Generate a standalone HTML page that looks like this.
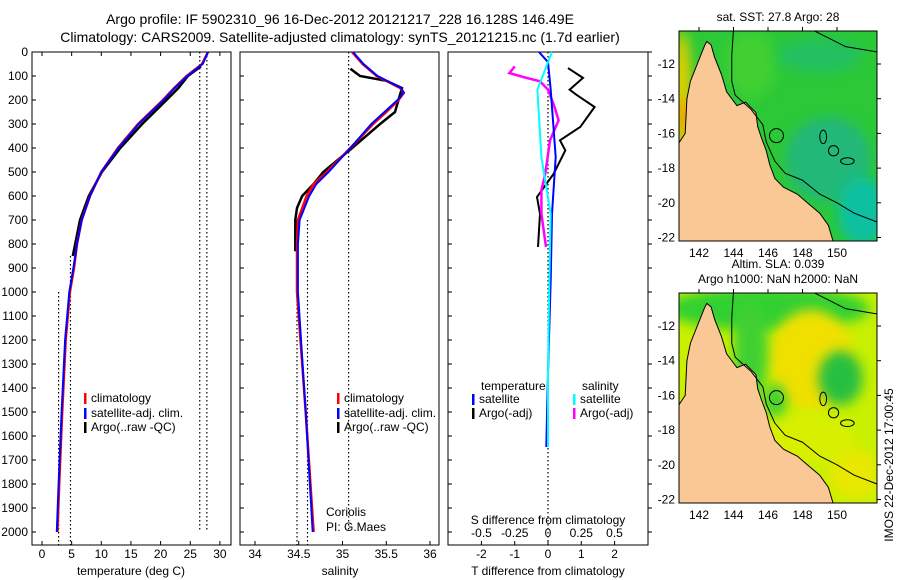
<!DOCTYPE html>
<html><head><meta charset="utf-8">
<style>
body{margin:0;background:#fff;}
svg{display:block;font-family:"Liberation Sans",sans-serif;}
text{fill:#000;}
</style></head>
<body>
<svg id="fig" width="900" height="580" viewBox="0 0 900 580">
<text x="340" y="24" font-size="14" text-anchor="middle">Argo profile: IF 5902310_96 16-Dec-2012 20121217_228 16.128S 146.49E</text>
<text x="340" y="42" font-size="14" text-anchor="middle">Climatology: CARS2009. Satellite-adjusted climatology: synTS_20121215.nc (1.7d earlier)</text>
<g id="maps"></g>
<g id="panels"></g>
<text transform="translate(893,465) rotate(-90)" font-size="12" text-anchor="middle">IMOS 22-Dec-2012 17:00:45</text>
</svg>
<script>
// ---------- data ----------
const depthClim = [0,50,100,150,200,300,400,500,600,700,800,900,1000,1200,1500,1800,2000];
const tempClim  = [28,27,24.4,22.3,20.4,16.2,12.8,10,8.1,6.7,5.9,5.4,4.7,4.0,3.4,2.9,2.6];
const tempSat   = [28,27.1,24.5,22.4,20.5,16.3,12.9,10,8.1,6.7,5.9,5.3,4.6,3.9,3.3,2.8,2.5];
const depthArgoT = [60,100,150,200,300,400,500,600,700,800,850];
const tempArgo   = [26.8,24.6,23,21,16.9,13.2,10.1,7.9,6.4,5.6,5.2];
const depthSalClim = [0,50,100,150,170,200,250,300,400,500,550,600,700,800,1000,1500,2000];
const salClim = [35.11,35.23,35.39,35.66,35.7,35.64,35.5,35.35,35.09,34.82,34.67,34.59,34.49,34.48,34.48,34.58,34.67];
const salSat  = [35.12,35.24,35.4,35.67,35.7,35.63,35.48,35.33,35.09,34.84,34.7,34.62,34.51,34.49,34.49,34.58,34.66];
const depthArgoS = [70,100,120,150,200,250,300,400,500,550,600,650,700,830];
const salArgo = [35.09,35.2,35.5,35.68,35.64,35.6,35.43,35.11,34.78,34.67,34.54,34.48,34.46,34.46];
const depthDiffArgo = [67,108,157,178,229,312,368,410,507,604,674,812];
const tDiffArgo = [0.6,1.05,0.65,0.85,1.4,0.97,0.36,0.52,0.17,-0.33,-0.24,-0.3];
const depthDiffArgoS = [60,88,108,122,157,229,285,368,507,576,674,812];
const sDiffArgo = [-0.25,-0.29,-0.16,-0.06,0,0.05,0.08,0.015,-0.02,-0.05,-0.05,-0.015];
const depthDiffSat = [0,42,157,438,674,951,1337,1646];
const tDiffSat = [-0.27,0,0.08,0.23,0.12,0.08,0,-0.05];
const sDiffSat = [0.03,0,-0.08,-0.05,0.02,0.01,0,0];
const depthTicks = [0,100,200,300,400,500,600,700,800,900,1000,1100,1200,1300,1400,1500,1600,1700,1800,1900,2000];
const tempTicks = [0,5,10,15,20,25,30];
const salTicks = [34,34.5,35,35.5,36];
const tDiffTicks = [-2,-1,0,1,2];
const sDiffTicks = [-0.5,-0.25,0,0.25,0.5];
const latTicks = [12,14,16,18,20,22];
const lonTicks = [142,144,146,148,150];

const NS='http://www.w3.org/2000/svg';
function el(tag,attrs,parent,txt){const e=document.createElementNS(NS,tag);for(const k in attrs)e.setAttribute(k,attrs[k]);if(txt!==undefined)e.textContent=txt;parent.appendChild(e);return e;}
const panels=document.getElementById('panels');
const Y0=52, YB=545;
const yD = d => Y0 + d*0.24;
const xT = t => 42 + t*5.93;
const xS = s => 255 + (s-34)*87.5;
const xTD = t => 548 + t*33.3;
const xSD = s => 548 + s*133;

function frame(x0,x1,name){
  const r=el('rect',{x:x0,y:Y0,width:x1-x0,height:YB-Y0,fill:'none',stroke:'#000','stroke-width':1},panels);
  
  
  depthTicks.forEach(d=>{el('line',{x1:x0,x2:x0+4,y1:yD(d),y2:yD(d),stroke:'#000'},panels);});
}
function line(xs,ds,xf,color,w,name){
  const pts=xs.map((v,i)=>xf(v).toFixed(1)+','+yD(ds[i]).toFixed(1)).join(' ');
  const p=el('polyline',{points:pts,fill:'none',stroke:color,'stroke-width':w},panels);
  
  
}
function vdot(x,d0,d1,name){
  const l=el('line',{x1:x,x2:x,y1:yD(d0),y2:yD(d1),stroke:'#000','stroke-width':1.2,'stroke-dasharray':'1.5,2.5'},panels);
  
  
}
function xticks(ticks,xf,y,labelfmt,name){
  ticks.forEach(t=>{
    el('line',{x1:xf(t),x2:xf(t),y1:YB,y2:YB-4,stroke:'#000'},panels);
    const tx=el('text',{x:xf(t),y:y,'font-size':12,'text-anchor':'middle'},panels,labelfmt(t));
    
    
  });
}
function legend(x,y,color,label,name){
  el('rect',{x:x,y:y-9,width:2.5,height:11,fill:color},panels);
  const t=el('text',{x:x+7,y:y,'font-size':12},panels,label);
  
  
}
depthTicks.forEach(d=>{
  const t=el('text',{x:28,y:yD(d)+4,'font-size':12,'text-anchor':'end'},panels,String(d));
  
  
});
// Panel 1 temperature
frame(32,231,'temperature-panel');
tempTicks.forEach(t=>el('line',{x1:xT(t),x2:xT(t),y1:Y0,y2:Y0+4,stroke:'#000'},panels));
vdot(xT(26.6),0,2000,'sst-dotted-1');vdot(xT(27.8),0,2000,'sst-dotted-2');
vdot(xT(4.8),850,2055,'temp-dotted-1');vdot(xT(2.8),1000,2055,'temp-dotted-2');
line(tempArgo,depthArgoT,xT,'#000',2.5,'temp-argo-line');
line(tempClim,depthClim,xT,'#f00',2.5,'temp-climatology-line');
line(tempSat,depthClim,xT,'#00f',2,'temp-satellite-line');
xticks(tempTicks,xT,558,t=>String(t),'temp-tick-label');
el('text',{x:131,y:575,'font-size':12,'text-anchor':'middle',},panels,'temperature (deg C)');
legend(84,402,'#f00','climatology','legend-climatology');
legend(84,417,'#00f','satellite-adj. clim.','legend-satellite');
legend(84,431,'#000','Argo(..raw -QC)','legend-argo');
// Panel 2 salinity
frame(240,439,'salinity-panel');
vdot(xS(35.07),0,2000,'sal-dotted-1');vdot(xS(34.48),700,2055,'sal-dotted-2');vdot(xS(34.6),700,2055,'sal-dotted-3');
line(salArgo,depthArgoS,xS,'#000',2.5,'sal-argo-line');
line(salClim,depthSalClim,xS,'#f00',2.5,'sal-climatology-line');
line(salSat,depthSalClim,xS,'#00f',2,'sal-satellite-line');
xticks(salTicks,xS,558,t=>String(t),'sal-tick-label');
el('text',{x:340,y:575,'font-size':12,'text-anchor':'middle',},panels,'salinity');
legend(337,402,'#f00','climatology','legend-climatology-2');
legend(337,417,'#00f','satellite-adj. clim.','legend-satellite-2');
legend(337,431,'#000','Argo(..raw -QC)','legend-argo-2');
el('text',{x:326,y:516,'font-size':12,},panels,'Coriolis');
el('text',{x:326,y:531,'font-size':12,},panels,'PI: G.Maes');
// Panel 3 difference
frame(448,648,'difference-panel');
depthTicks.forEach(d=>el('line',{x1:648,x2:652,y1:yD(d),y2:yD(d),stroke:'#000'},panels));
vdot(548,0,2055,'zero-dotted');
line(tDiffArgo,depthDiffArgo,xTD,'#000',2,'tdiff-argo-line');
line(sDiffArgo,depthDiffArgoS,xSD,'#f0f',2.5,'sdiff-argo-line');
line(tDiffSat,depthDiffSat,xTD,'#00f',2,'tdiff-satellite-line');
line(sDiffSat,depthDiffSat,xSD,'#0ff',2,'sdiff-satellite-line');
xticks(tDiffTicks,xTD,558,t=>String(t),'tdiff-tick-label');
el('text',{x:548,y:575,'font-size':12,'text-anchor':'middle',},panels,'T difference from climatology');
sDiffTicks.forEach(s=>{const t=el('text',{x:xSD(s),y:537,'font-size':12,'text-anchor':'middle'},panels,String(s));
  
  });
el('text',{x:548,y:524,'font-size':12,'text-anchor':'middle',},panels,'S difference from climatology');
el('text',{x:481,y:390,'font-size':12,},panels,'temperature');
legend(472,403,'#00f','satellite','legend-tdiff-satellite');
legend(472,417,'#000','Argo(-adj)','legend-tdiff-argo');
el('text',{x:582,y:390,'font-size':12,},panels,'salinity');
legend(573,403,'#0ff','satellite','legend-sdiff-satellite');
legend(573,417,'#f0f','Argo(-adj)','legend-sdiff-argo');

// ---------- maps ----------
const maps=document.getElementById('maps');
const coast=[[140.8,16.6],[141.2,16],[141.3,14],[141.5,13],[141.9,12],[142.3,11],[142.45,10.7],[142.7,10.9],[142.9,11.6],[143.3,12.6],[143.6,13.6],[144.2,14.4],[144.7,14.2],[145.3,14.8],[145.4,15.6],[145.6,16.2],[145.9,17],[146.1,17.8],[146.4,18.6],[146.9,19.1],[147.7,19.5],[148.4,20.1],[149,20.6],[149.5,21.3],[149.8,22.3],[140.8,22.3]];
const iso=[[144,10],[143.9,11.5],[143.9,13],[144.1,13.8],[145,14.6],[145.7,15.5],[145.9,16.5],[146.4,17.6],[147,18.3],[148,18.7],[149,19.5],[150,20],[151,20.6],[152.3,21.1]];
const iso2=[[148.5,10],[149.5,10.5],[150.5,11],[152.3,11.3]];
function drawMap(top,latRef,blobs,base,title1,title2,idx){
  const X=lon=>699+(lon-142)*17.25, Y=lat=>latRef+(lat-12)*17.35;
  const cid='clip'+idx;
  const cp=el('clipPath',{id:cid},maps);el('rect',{x:679,y:top,width:198,height:210},cp);
  const g=el('g',{'clip-path':'url(#'+cid+')'},maps);
  
  
  el('rect',{x:679,y:top,width:198,height:210,fill:base},g);
  blobs.forEach(b=>el('ellipse',{cx:X(b[0]),cy:Y(b[1]),rx:b[2]*17,ry:b[3]*17,fill:b[4],filter:'url(#blur)'},g));
  el('polygon',{points:coast.map(p=>X(p[0])+','+Y(p[1])).join(' '),fill:'#f9c894',stroke:'#000','stroke-width':1},g);
  el('polyline',{points:iso.map(p=>X(p[0])+','+Y(p[1])).join(' '),fill:'none',stroke:'#000','stroke-width':1},g);
  el('polyline',{points:iso2.map(p=>X(p[0])+','+Y(p[1])).join(' '),fill:'none',stroke:'#000','stroke-width':1},g);
  [[149.2,16.2,0.2,0.4],[149.8,17.0,0.3,0.3],[150.6,17.6,0.4,0.2]].forEach(r=>el('ellipse',{cx:X(r[0]),cy:Y(r[1]),rx:r[2]*17,ry:r[3]*17,fill:'none',stroke:'#000'},g));
  const c=el('circle',{cx:X(146.49),cy:Y(16.13),r:7,fill:'none',stroke:'#000'},g);
  
  
  el('rect',{x:679,y:top,width:198,height:210,fill:'none',stroke:'#000'},maps);
  latTicks.forEach(l=>{el('line',{x1:877,x2:881,y1:Y(l),y2:Y(l),stroke:'#000'},maps);
    const t=el('text',{x:675,y:Y(l)+4,'font-size':12,'text-anchor':'end'},maps,'-'+l);
    
    });
  lonTicks.forEach(l=>{el('line',{x1:X(l),x2:X(l),y1:top,y2:top-4,stroke:'#000'},maps);
    const t=el('text',{x:X(l),y:top+226,'font-size':12,'text-anchor':'middle'},maps,String(l));
    
    });
  if(title2){el('text',{x:778,y:top-25,'font-size':12,'text-anchor':'middle',},maps,title1);
    el('text',{x:778,y:top-10,'font-size':12,'text-anchor':'middle',},maps,title2);}
  else el('text',{x:778,y:top-10,'font-size':12,'text-anchor':'middle',},maps,title1);
}
const defs=el('defs',{},maps);const f=el('filter',{id:'blur',x:'-50%',y:'-50%',width:'200%',height:'200%'},defs);el('feGaussianBlur',{stdDeviation:6},f);
drawMap(31,64,[[141,14,0.6,4,'#e0d000'],[141,15,0.4,1,'#f0a000'],[149.5,17.5,2.5,2.5,'#20b878'],[151.5,20.5,1.5,2,'#10c0a0'],[145,12,1.5,2,'#40d030'],[149,11.5,2.5,1,'#20c060']],'#2cc838','sat. SST: 27.8 Argo: 28',null,1);
drawMap(293,326,[[146,11,6,1.3,'#30d030'],[148.5,14,2.5,3,'#f0e000'],[150.2,15,1.3,1.6,'#28c040'],[145,13.5,1,3,'#40d030'],[148,18.5,3,1.5,'#d8f000'],[146.4,16.3,0.7,1,'#40d030'],[151,20.5,1.5,1.5,'#e8e800']],'#c8f000','Altim. SLA: 0.039','Argo h1000: NaN h2000: NaN',2);
</script>
</body></html>
